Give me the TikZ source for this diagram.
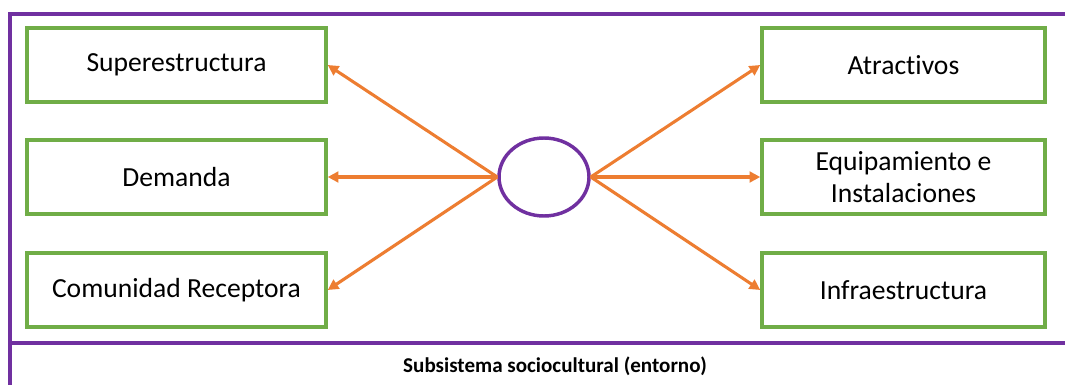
\documentclass[tikz,border=0pt]{standalone}
\usepackage{fontspec}
\setmainfont{Carlito}[Ligatures=NoCommon]
\usetikzlibrary{arrows.meta, shapes.geometric}

\definecolor{morado}{HTML}{7030A0}
\definecolor{verde}{HTML}{70AD47}
\definecolor{naranja}{HTML}{ED7D31}

\begin{document}
\begin{tikzpicture}[x=0.75pt, y=-0.75pt, >={Triangle[length=8pt, width=8pt]}, line join=miter]

	% ================= 1. estilos =================
	\tikzset{
		cuadro/.style={draw=verde, line width=2.6pt, minimum height=55.5pt, inner sep=2pt,
			align=center, font=\fontsize{20.7}{24.5}\selectfont},
		cuadroizq/.style={cuadro, minimum width=224.25pt},
		cuadroder/.style={cuadro, minimum width=212.25pt},
		flecha/.style={->, draw=naranja, line width=2.3pt},
		marco/.style={draw=morado, line width=2.6pt}
	}
	\useasboundingbox (0,0) rectangle (1065,385);

	% ================= 2. marco del entorno =================
	\draw[marco] (1065,14) -- (10,14) -- (10,385);
	\draw[marco] (10,343) -- (1065,343);
	\node[font=\bfseries\fontsize{15.8}{18}\selectfont] (entorno) at (555,366) {Subsistema sociocultural (entorno)};

	% ================= 3. sistema central =================
	\node[ellipse, draw=morado, line width=2.6pt, minimum width=67.5pt, minimum height=58.5pt, inner sep=0pt] (centro) at (544,177) {};

	% ================= 4. subsistemas =================
	\node[cuadroizq] (super) at (176.5,65) {Superestructura};
	\node[cuadroizq] (demanda) at (176.5,177) {Demanda};
	\node[cuadroizq] (comunidad) at (176.5,290) {Comunidad Receptora};

	\node[cuadroder] (atractivos) at (903.5,65) {Atractivos};
	\node[cuadroder] (equipo) at (903.5,177) {Equipamiento e\\Instalaciones};
	\node[cuadroder] (infra) at (903.5,290) {Infraestructura};

	% ================= 5. relaciones =================
	\foreach \destino in {super, demanda, comunidad}
		\draw[flecha] (centro.west) -- (\destino.east);
	\foreach \destino in {atractivos, equipo, infra}
		\draw[flecha] (centro.east) -- (\destino.west);

\end{tikzpicture}
\end{document}
